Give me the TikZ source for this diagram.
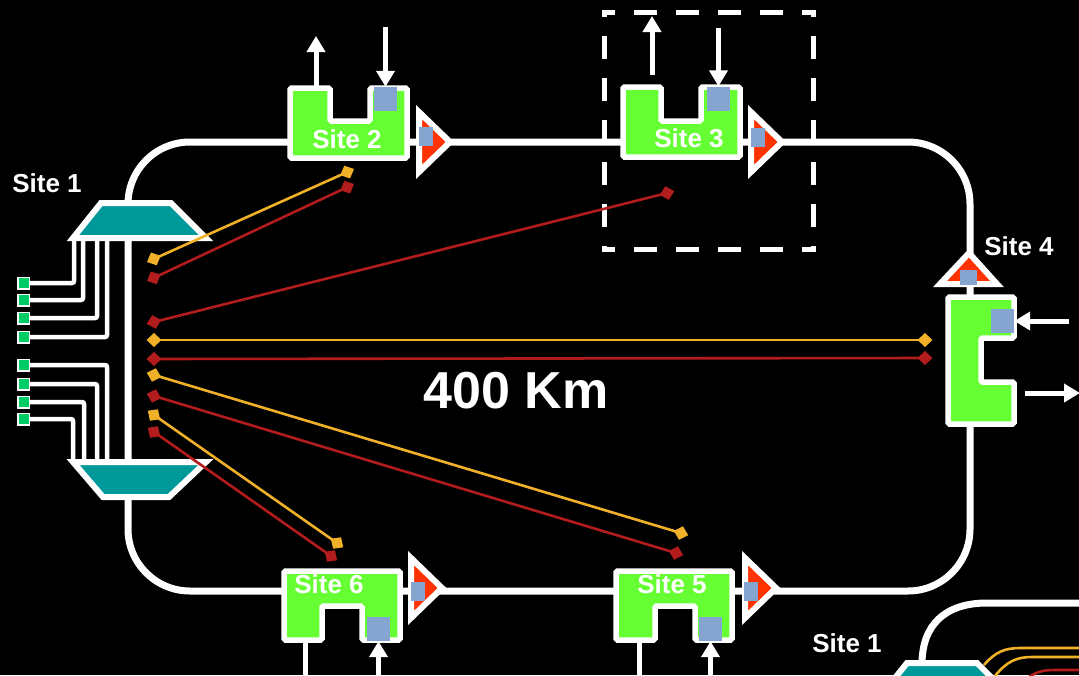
\documentclass[tikz,border=0pt]{standalone}
\usepackage{fontspec}
\setmainfont{Liberation Sans}
\usepackage{xcolor}
\usepackage{tikz}
\usetikzlibrary{arrows.meta}
\definecolor{verdesitio}{RGB}{102,255,51}
\definecolor{verdetx}{RGB}{0,204,102}
\definecolor{puerto}{RGB}{134,164,208}
\definecolor{rojoamp}{RGB}{255,51,0}
\definecolor{turquesa}{RGB}{0,153,153}
\definecolor{amarillo}{RGB}{240,176,40}
\definecolor{rojo}{RGB}{178,28,28}

\begin{document}
\begin{tikzpicture}[x=1pt,y=-1pt,
anillo/.style={draw=white,line width=7pt},
marco/.style={draw=white,line width=5pt,line cap=rect,dash pattern=on 18pt off 24pt},
sitio/.style={draw=white,line width=5.5pt,fill=verdesitio,rounded corners=1.5pt},
amp/.style={draw=white,line width=6pt,fill=rojoamp,line join=miter},
mux/.style={draw=white,line width=6pt,fill=turquesa,line join=miter},
puertob/.style={fill=puerto,inner sep=0pt,minimum width=23pt,minimum height=24pt},
puertoa/.style={fill=puerto,inner sep=0pt,minimum width=14pt,minimum height=19pt},
tx/.style={fill=verdetx,draw=white,line width=1.5pt,minimum size=11.5pt,inner sep=0pt},
cola/.style={draw=white,line width=4.5pt,rounded corners=2pt},
io/.style={draw=white,line width=5pt,-{Triangle[length=16pt,width=18pt]}},
fibra/.style={line width=2.6pt,{Turned Square[length=15pt,width=14pt]}-{Turned Square[length=15pt,width=14pt]}},
fa/.style={fibra,draw=amarillo,fill=amarillo},
fr/.style={fibra,draw=rojo,fill=rojo},
lbl/.style={font=\fontsize{26}{28}\selectfont\bfseries,text=white,inner sep=0pt}
]
\useasboundingbox (0,0) rectangle (1079,675);
\fill[black] (0,0) rectangle (1079,675);
\clip (0,0) rectangle (1079,675);

% marco de Site 3
\coordinate (m1) at (604.5,12.5);
\coordinate (m2) at (813,12.5);
\coordinate (m3) at (813,249.5);
\coordinate (m4) at (604.5,249.5);
\draw[marco,dash phase=9.75pt] (m1) -- (m2);
\draw[marco,dash phase=9.75pt] (m4) -- (m3);
\draw[marco,dash phase=16.5pt] (m1) -- (m4);
\draw[marco,dash phase=16.5pt] (m2) -- (m3);

% anillos
\draw[anillo,rounded corners=62pt] (128,142) rectangle (970,591);
\draw[anillo] (922,664) .. controls (922,625) and (945,603) .. (987,603) -- (1090,603);

% Site 1: tributarios
\node[tx] (t1) at (23.5,283) {};
\node[tx] (t2) at (23.5,300) {};
\node[tx] (t3) at (23.5,318) {};
\node[tx] (t4) at (23.5,337) {};
\node[tx] (t5) at (23.5,365) {};
\node[tx] (t6) at (23.5,384) {};
\node[tx] (t7) at (23.5,402) {};
\node[tx] (t8) at (23.5,419) {};
\coordinate (ma1) at (74,238);
\coordinate (ma2) at (83,238);
\coordinate (ma3) at (97,238);
\coordinate (ma4) at (107,238);
\coordinate (mb1) at (107,462);
\coordinate (mb2) at (97,462);
\coordinate (mb3) at (84,462);
\coordinate (mb4) at (73,462);
\draw[cola] (t1.east) -| (ma1);
\draw[cola] (t2.east) -| (ma2);
\draw[cola] (t3.east) -| (ma3);
\draw[cola] (t4.east) -| (ma4);
\draw[cola] (t5.east) -| (mb1);
\draw[cola] (t6.east) -| (mb2);
\draw[cola] (t7.east) -| (mb3);
\draw[cola] (t8.east) -| (mb4);
\draw[mux] (101,203) -- (171,203) -- (206,238) -- (73,238) -- cycle;
\draw[mux] (73,462) -- (206,462) -- (169,497) -- (103,497) -- cycle;
\draw[mux] (907,663) -- (977,663) -- (1012,698) -- (879,698) -- cycle;

% sitios
\draw[sitio] (290,88) -- (330,88) -- (330,121) -- (370,121) -- (370,88) -- (407,88) -- (407,158) -- (290,158) -- cycle;
\draw[sitio] (623,87) -- (661,87) -- (661,121) -- (701,121) -- (701,87) -- (740,87) -- (740,157) -- (623,157) -- cycle;
\draw[sitio] (948,297) -- (1014,297) -- (1014,338) -- (981,338) -- (981,382) -- (1014,382) -- (1014,424) -- (948,424) -- cycle;
\draw[sitio] (616,571) -- (732,571) -- (732,640) -- (695,640) -- (695,606) -- (655,606) -- (655,640) -- (616,640) -- cycle;
\draw[sitio] (284,571) -- (400,571) -- (400,640) -- (362,640) -- (362,606) -- (322,606) -- (322,640) -- (284,640) -- cycle;

% amplificadores
\draw[amp] (419,112) -- ++(31,30) -- ++(-31,30) -- cycle;
\draw[amp] (751,112) -- ++(31,30) -- ++(-31,30) -- cycle;
\draw[amp] (940,284) -- (969,253) -- (997,284) -- cycle;
\draw[amp] (745,558) -- ++(31,30) -- ++(-31,30) -- cycle;
\draw[amp] (411,558) -- ++(31,30) -- ++(-31,30) -- cycle;

% puertos
\node[puertob] (p2) at (385.5,99) {};
\node[puertob] (p3) at (718.5,98.5) {};
\node[puertob] (p4) at (1002.5,321) {};
\node[puertob] (p5) at (710.5,629) {};
\node[puertob] (p6) at (378.5,629) {};
\node[puertoa] (a2) at (426,136.5) {};
\node[puertoa] (a3) at (758,137) {};
\node[puertoa,minimum width=17pt,minimum height=15pt] (a4) at (968.5,277.5) {};
\node[puertoa] (a5) at (750.5,591.5) {};
\node[puertoa] (a6) at (418,591.5) {};

% fibras
\coordinate (o2a) at (147,262);   \coordinate (e2a) at (354,169);
\coordinate (o2r) at (147,281);   \coordinate (e2r) at (354,184);
\coordinate (o3r) at (146.7,323.8); \coordinate (e3r) at (674.3,191.2);
\coordinate (o4a) at (146.5,340); \coordinate (e4a) at (932.5,340);
\coordinate (o4r) at (146.5,359); \coordinate (e4r) at (932.5,358);
\coordinate (o5a) at (146.8,372.8); \coordinate (e5a) at (688.2,535.2);
\coordinate (o5r) at (146.8,393.8); \coordinate (e5r) at (683.2,555.2);
\coordinate (o6a) at (147.8,410.7); \coordinate (e6a) at (343.2,547.3);
\coordinate (o6r) at (147.9,427.7); \coordinate (e6r) at (337.1,560.3);
\draw[fa] (o2a) -- (e2a);
\draw[fr] (o2r) -- (e2r);
\draw[fr] (o3r) -- (e3r);
\draw[fa] (o4a) -- (e4a);
\draw[fr] (o4r) -- (e4r);
\draw[fa] (o5a) -- (e5a);
\draw[fr] (o5r) -- (e5r);
\draw[fa] (o6a) -- (e6a);
\draw[fr] (o6r) -- (e6r);
\draw[amarillo,line width=2.6pt] (984,665) .. controls (995,652) and (1005,648) .. (1020,648) -- (1090,648);
\draw[amarillo,line width=2.6pt] (995,676) .. controls (1007,661) and (1017,657) .. (1032,657) -- (1090,657);
\draw[rojo,line width=2.6pt] (1025,680) .. controls (1035,672) and (1042,670) .. (1055,670) -- (1090,670);

% entradas y salidas
\coordinate (s2s) at (316,86);   \coordinate (s2f) at (316,36);
\coordinate (s2e) at (385.5,27);
\coordinate (s3s) at (652,75);   \coordinate (s3f) at (652,16);
\coordinate (s3e) at (718.5,28);
\coordinate (s4e) at (1069,321);
\coordinate (s4s) at (1025,393); \coordinate (s4f) at (1080,393);
\coordinate (s5s) at (639,642);  \coordinate (s5f) at (639,680);
\coordinate (s5e) at (710.5,680);
\coordinate (s6s) at (305,642);  \coordinate (s6f) at (305,680);
\coordinate (s6e) at (378.5,680);
\draw[io] (s2s) -- (s2f);
\draw[io] (s2e) -- (p2.north);
\draw[io] (s3s) -- (s3f);
\draw[io] (s3e) -- (p3.north);
\draw[io] (s4e) -- (p4.east);
\draw[io] (s4s) -- (s4f);
\draw[io,-] (s5s) -- (s5f);
\draw[io] (s5e) -- (p5.south);
\draw[io,-] (s6s) -- (s6f);
\draw[io] (s6e) -- (p6.south);

% etiquetas
\node[lbl] (l1) at (47,183) {Site 1};
\node[lbl] (l2) at (347,139) {Site 2};
\node[lbl] (l3) at (689,138) {Site 3};
\node[lbl] (l4) at (1019,246) {Site 4};
\node[lbl] (l5) at (672,584) {Site 5};
\node[lbl] (l6) at (329,584) {Site 6};
\node[lbl] (l1b) at (847,643) {Site 1};
\node[lbl,font=\fontsize{52}{56}\selectfont\bfseries] (dist) at (516,391) {400 Km};
\end{tikzpicture}
\end{document}
